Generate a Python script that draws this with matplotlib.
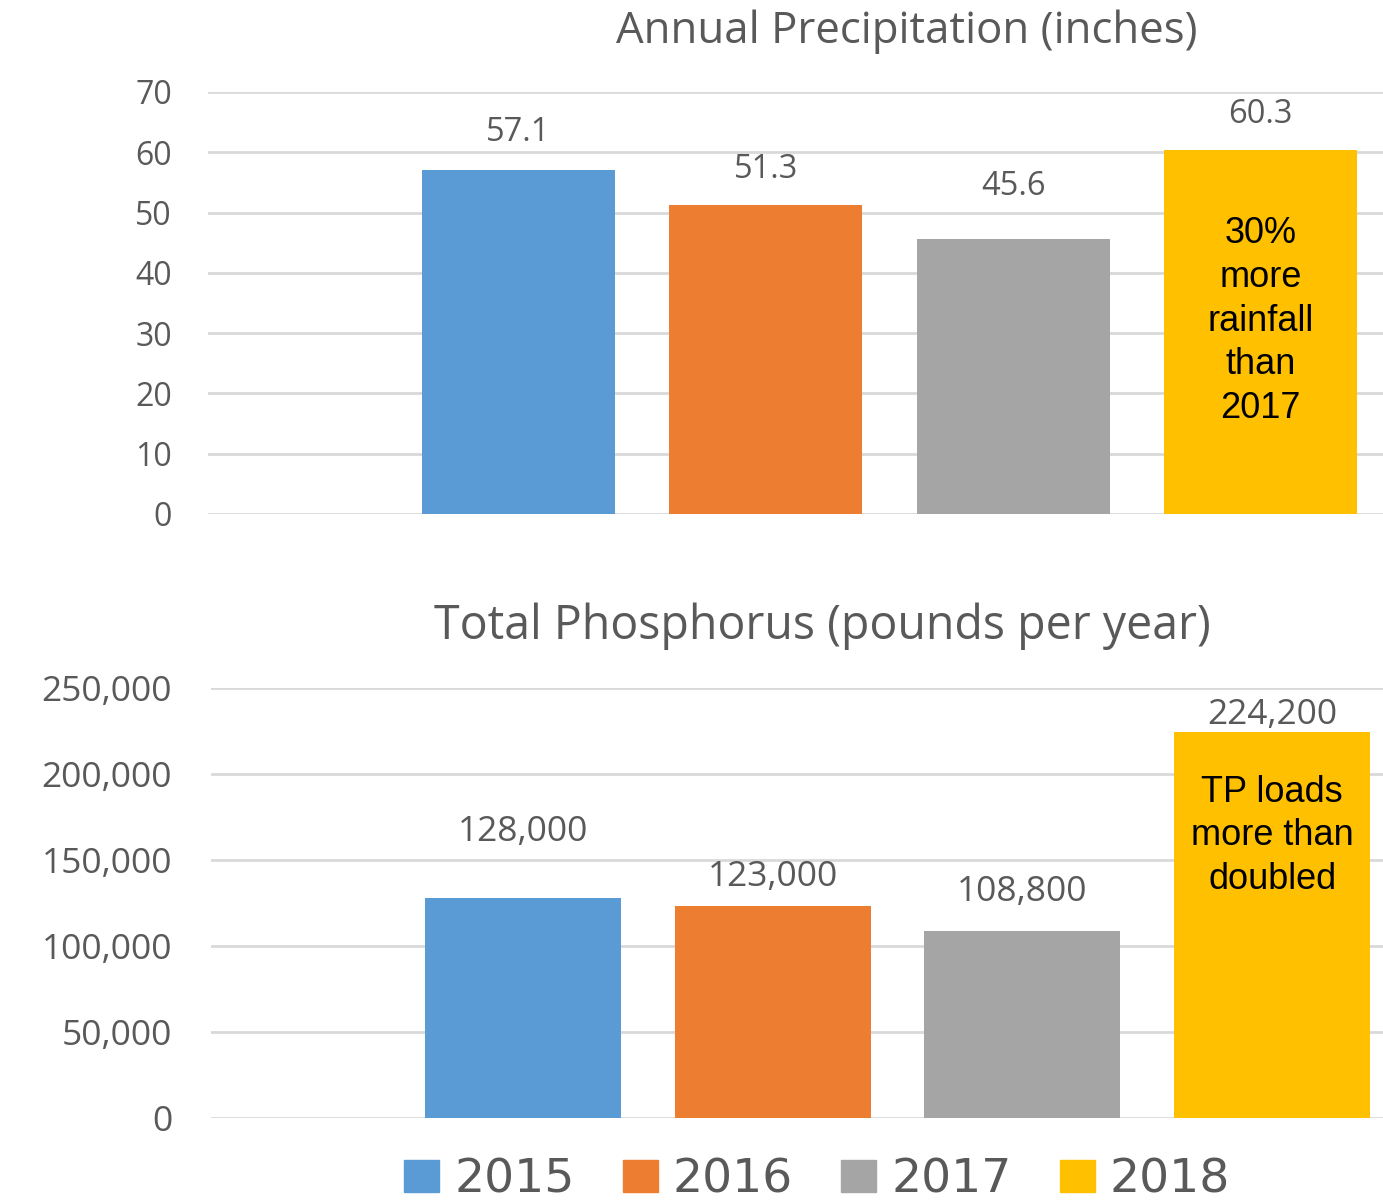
import matplotlib
matplotlib.use("Agg")
import matplotlib.pyplot as plt
from matplotlib.patches import Patch

years = ["2015", "2016", "2017", "2018"]
precip = [57.1, 51.3, 45.6, 60.3]
phosphorus = [128000, 123000, 108800, 224200]
precip_ticks = [0, 10, 20, 30, 40, 50, 60, 70]
tp_ticks = [0, 50000, 100000, 150000, 200000, 250000]
colors = ["#5B9BD5", "#ED7D31", "#A5A5A5", "#FFC000"]

# label offsets above bar tops (labels were nudged by hand in the original)
precip_dy = [6.1, 5.9, 8.8, 6.0]
tp_dy = [38000, 17000, 22500, 10000]

TXT = "#595959"
GRID = "#D9D9D9"
FONT = "Open Sans"

W, H = 1383, 1200
fig = plt.figure(figsize=(W / 100, H / 100), dpi=100)


def px_axes(left, right, top, bottom):
    return fig.add_axes([left / W, 1 - bottom / H, (right - left) / W, (bottom - top) / H])


def style(ax, ticks, labels, ymax, size, pad):
    ax.set_ylim(0, ymax)
    ax.set_yticks(ticks)
    ax.set_yticklabels(labels, fontsize=size, color=TXT, family=FONT)
    ax.set_xticks([])
    for s in ax.spines.values():
        s.set_visible(False)
    ax.tick_params(axis="y", length=0, pad=pad)
    ax.grid(axis="y", color=GRID, linewidth=2)
    ax.set_axisbelow(True)


x = range(len(years))

# top panel: precipitation
ax1 = px_axes(208, W, 92, 514)
ax1.bar(x, precip, width=0.78, color=colors)
ax1.set_xlim(-1.256, 3.496)
style(ax1, precip_ticks, [str(t) for t in precip_ticks], 70, 23, 26)
for i, v in enumerate(precip):
    ax1.text(i, v + precip_dy[i], f"{v:.1f}", ha="center", va="center",
             fontsize=23.5, color=TXT, family=FONT)
ax1.text(3, 32.0, "30%\nmore\nrainfall\nthan\n2017", ha="center", va="center",
         fontsize=26, color="black", family="Liberation Sans", linespacing=1.33)
fig.text(907 / W, 1 - 32 / H, "Annual Precipitation (inches)", ha="center",
         va="center", fontsize=31.5, color=TXT, family=FONT)

# bottom panel: phosphorus
ax2 = px_axes(211, W, 688, 1118)
ax2.bar(x, phosphorus, width=0.785, color=colors)
ax2.set_xlim(-1.249, 3.444)
style(ax2, tp_ticks, [f"{t:,}" for t in tp_ticks], 250000, 25.5, 28)
for i, v in enumerate(phosphorus):
    ax2.text(i, v + tp_dy[i], f"{v:,}", ha="center", va="center",
             fontsize=25.5, color=TXT, family=FONT)
ax2.text(3, 164000, "TP loads\nmore than\ndoubled", ha="center", va="center",
         fontsize=26, color="black", family="Liberation Sans", linespacing=1.33)
fig.text(822 / W, 1 - 626 / H, "Total Phosphorus (pounds per year)", ha="center",
         va="center", fontsize=33.5, color=TXT, family=FONT)

handles = [Patch(color=c) for c in colors]
leg = fig.legend(handles, years, loc="center", bbox_to_anchor=(817 / W, 1 - 1180 / H),
                 ncol=4, frameon=False, handlelength=0.74, handleheight=0.68,
                 handletextpad=0.32, columnspacing=1.02, borderaxespad=0,
                 prop={"family": "DejaVu Sans", "size": 34})
for t in leg.get_texts():
    t.set_color(TXT)

fig.savefig("out.png", dpi=100, facecolor="white")
